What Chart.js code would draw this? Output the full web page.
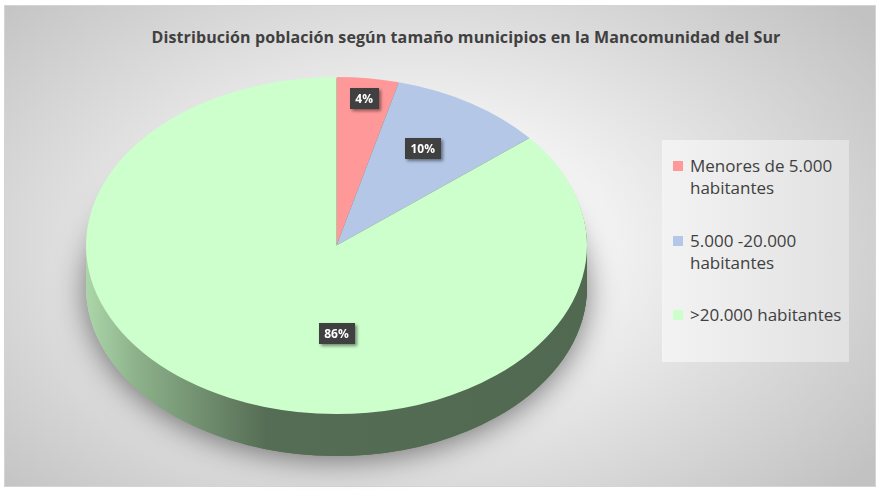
<!DOCTYPE html>
<html>
<head>
<meta charset="utf-8">
<script src="https://cdn.jsdelivr.net/npm/chart.js@4.4.1/dist/chart.umd.min.js"></script>
<style>
  html, body { margin: 0; padding: 0; background: #fff; }
  #frame {
    position: absolute; left: 4px; top: 5px; width: 872px; height: 482px;
    box-sizing: border-box; border: 1px solid #d4d4d4;
    background: radial-gradient(ellipse 66% 76% at 47% 50%, #ffffff 0%, #f3f3f3 32%, #d5d5d5 74%, #c2c2c2 100%);
  }
  #title {
    position: absolute; left: 0; top: 26px; width: 932px; text-align: center;
    font: bold 16px "Open Sans"; letter-spacing: 0.1px; color: #404040; white-space: nowrap;
  }
  #legend {
    position: absolute; left: 662px; top: 140px; width: 187px; height: 222px;
    background: linear-gradient(90deg, #f3f3f3, #e1e1e1);
  }
  .item { position: absolute; left: 11px; width: 176px; font: 17px "Open Sans"; color: #404040; line-height: 22px; }
  .sw { position: absolute; left: 0; top: 6px; width: 10px; height: 10px; }
  .txt { margin-left: 17px; }
  canvas { position: absolute; left: 0; top: 0; }
</style>
</head>
<body>
<div id="frame"></div>
<div id="title">Distribución población según tamaño municipios en la Mancomunidad del Sur</div>
<div id="legend"></div>
<canvas id="pieChart" width="880" height="490"></canvas>

<script>
// ======================
// DATA
// ======================
const categories = ["Menores de 5.000 habitantes", "5.000 -20.000 habitantes", ">20.000 habitantes"];
const legendLines = [["Menores de 5.000", "habitantes"], ["5.000 -20.000", "habitantes"], [">20.000 habitantes"]];
const shares = [4, 10, 86];
const sliceColors = ["#ff9999", "#b4c7e7", "#ccffcc"];

// ellipse of the top face (screen px) and thickness of the side
const CX = 336.5, CY = 245.5, RX = 250.5, RY = 168.5, DEPTH = 42;

function applyTransform(ctx, el) {
  const sx = RX / el.outerRadius;
  const sy = RY / el.outerRadius;
  ctx.translate(CX, CY);
  ctx.scale(sx, sy);
  ctx.translate(-el.x, -el.y);
}

function drawWith(el, ctx, fill) {
  const saved = el.options;
  el.options = Object.assign({}, saved, { backgroundColor: fill, borderWidth: 0 });
  el.draw(ctx);
  el.options = saved;
}

const pie3d = {
  id: "pie3d",
  beforeDatasetsDraw(chart) {
    const ctx = chart.ctx;
    const els = chart.getDatasetMeta(0).data;
    const el0 = els[0];
    const sx = RX / el0.outerRadius;
    const sy = RY / el0.outerRadius;
    const toX = X => el0.x + (X - CX) / sx;

    const side = ctx.createLinearGradient(toX(86), 0, toX(587), 0);
    side.addColorStop(0, "#acd6aa");
    side.addColorStop(0.1, "#8db28b");
    side.addColorStop(0.36, "#556d54");
    side.addColorStop(1, "#526951");

    // soft shadow under the pie
    ctx.save();
    applyTransform(ctx, el0);
    ctx.translate(0, DEPTH / sy);
    ctx.shadowColor = "rgba(0,0,0,0.5)";
    ctx.shadowBlur = 30;
    ctx.shadowOffsetY = 4;
    els.forEach(el => drawWith(el, ctx, side));
    ctx.restore();

    // side wall
    for (let d = DEPTH; d >= 1; d--) {
      ctx.save();
      applyTransform(ctx, el0);
      ctx.translate(0, d / sy);
      els.forEach(el => drawWith(el, ctx, side));
      ctx.restore();
    }
  },
  beforeDatasetDraw(chart) {
    const ctx = chart.ctx;
    ctx.save();
    applyTransform(ctx, chart.getDatasetMeta(0).data[0]);
  },
  afterDatasetDraw(chart) {
    chart.ctx.restore();
  },
  afterDatasetsDraw(chart) {
    const ctx = chart.ctx;
    const els = chart.getDatasetMeta(0).data;
    const total = shares.reduce((a, b) => a + b, 0);
    const radial = [0.88, 0.68, 0.52];

    ctx.save();
    ctx.font = "bold 12px 'Open Sans'";
    ctx.textAlign = "center";
    ctx.textBaseline = "middle";
    els.forEach((el, i) => {
      let a = (el.startAngle + el.endAngle) / 2;
      if (shares[i] / total > 0.5) a = Math.PI / 2;
      const x = CX + RX * radial[i] * Math.cos(a) - (i === 1 ? 5 : 0);
      const y = CY + RY * radial[i] * Math.sin(a);
      const text = Math.round(shares[i] / total * 100) + "%";
      const w = ctx.measureText(text).width + 11;
      const h = 21;

      ctx.save();
      ctx.shadowColor = "rgba(0,0,0,0.45)";
      ctx.shadowBlur = 3;
      ctx.shadowOffsetX = 2;
      ctx.shadowOffsetY = 2;
      ctx.fillStyle = "#404040";
      ctx.fillRect(Math.round(x - w / 2), Math.round(y - h / 2), Math.round(w), h);
      ctx.restore();

      ctx.fillStyle = "#ffffff";
      ctx.fillText(text, x, y + 1);
    });
    ctx.restore();
  }
};

new Chart(document.getElementById("pieChart"), {
  type: "pie",
  data: {
    labels: categories,
    datasets: [{
      data: shares,
      backgroundColor: sliceColors,
      borderWidth: 0
    }]
  },
  options: {
    responsive: false,
    animation: false,
    events: [],
    layout: { padding: { left: 100, right: 380, top: 45, bottom: 45 } },
    plugins: {
      legend: { display: false },
      tooltip: { enabled: false },
      title: { display: false }
    }
  },
  plugins: [pie3d]
});

// ======================
// LEGEND
// ======================
const legend = document.getElementById("legend");
const itemTops = [15, 90, 164];
legendLines.forEach((lines, i) => {
  const item = document.createElement("div");
  item.className = "item";
  item.style.top = itemTops[i] + "px";
  item.title = categories[i];
  item.innerHTML = `<div class="sw" style="background:${sliceColors[i]}"></div><div class="txt">${lines.join("<br>")}</div>`;
  legend.appendChild(item);
});
</script>
</body>
</html>
